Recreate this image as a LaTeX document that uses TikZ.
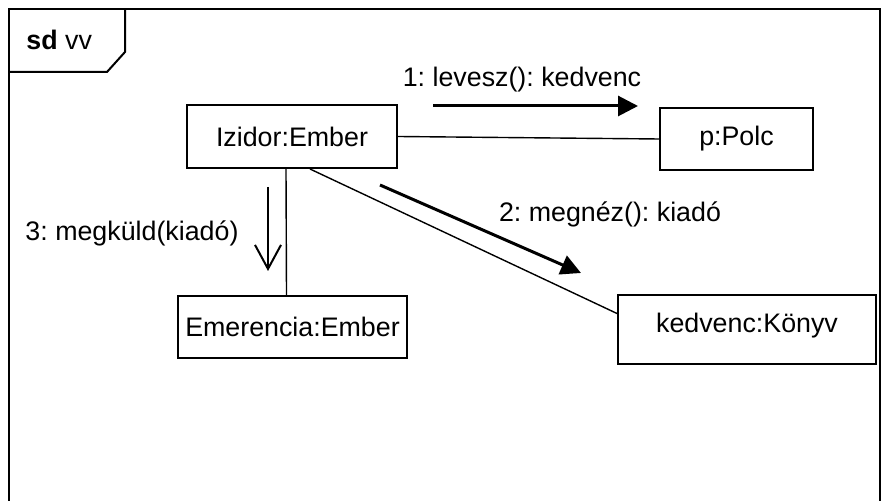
\documentclass[tikz,border=0pt]{standalone}
\usepackage{fontspec}
\setmainfont{Liberation Sans}
\usetikzlibrary{arrows.meta,positioning}
\frenchspacing

\begin{document}
\begin{tikzpicture}[x=0.5pt,y=-0.5pt,
font=\fontsize{13.4}{15}\selectfont,
block/.style={rectangle,draw,line width=1pt,fill=white,inner sep=0pt},
line/.style={draw,line width=0.7pt},
msg/.style={draw,line width=1.5pt,-{Triangle[length=10pt,width=10pt]}},
ret/.style={draw,line width=1pt,-{Straight Barb[length=12pt,width=13pt,line width=1pt]}}]

\useasboundingbox[fill=white] (0,0) rectangle (889,501);

% frame
\draw[line width=1pt] (9,520) -- (9,9) -- (880,9) -- (880,520);
\draw[line width=1pt] (9,72) -- (107,72) -- (125,52) -- (125,9);
\node[anchor=west,inner sep=0pt] (title) at (26,40) {\textbf{sd} vv};

% objects
\node [block, minimum width=105pt, minimum height=31.5pt] (iz) at (292,136.5) {Izidor:Ember};
\node [block, minimum width=76.5pt, minimum height=31pt] (polc) at (736.5,139) {p:Polc};
\node [block, minimum width=114.5pt, minimum height=31pt] (em) at (292.5,327) {Emerencia:Ember};
\node [block, minimum width=129pt, minimum height=34.5pt, text depth=7pt] (kon) at (747,329.5) {kedvenc:Könyv};

% links
\path [line] (iz.east) -- (polc.west);
\path [line] ([xshift=-3pt]iz.south) -- ([xshift=-3pt]em.north);
\path [line] ([xshift=9pt]iz.south) -- ([yshift=8pt]kon.west);

% messages
\coordinate (m1a) at (433,106);
\coordinate (m1b) at (638,106);
\coordinate (m2a) at (380,185);
\coordinate (m2b) at (581,273);
\coordinate (m3a) at (268,187);
\coordinate (m3b) at (268,271);

\path [msg] (m1a) -- (m1b);
\path [msg] (m2a) -- (m2b);
\path [ret] (m3a) -- (m3b);

\node (l1) at (522,80) {1: levesz(): kedvenc};
\node (l2) at (610,214) {2: megnéz(): kiadó};
\node (l3) at (132,233) {3: megküld(kiadó)};
\end{tikzpicture}
\end{document}
